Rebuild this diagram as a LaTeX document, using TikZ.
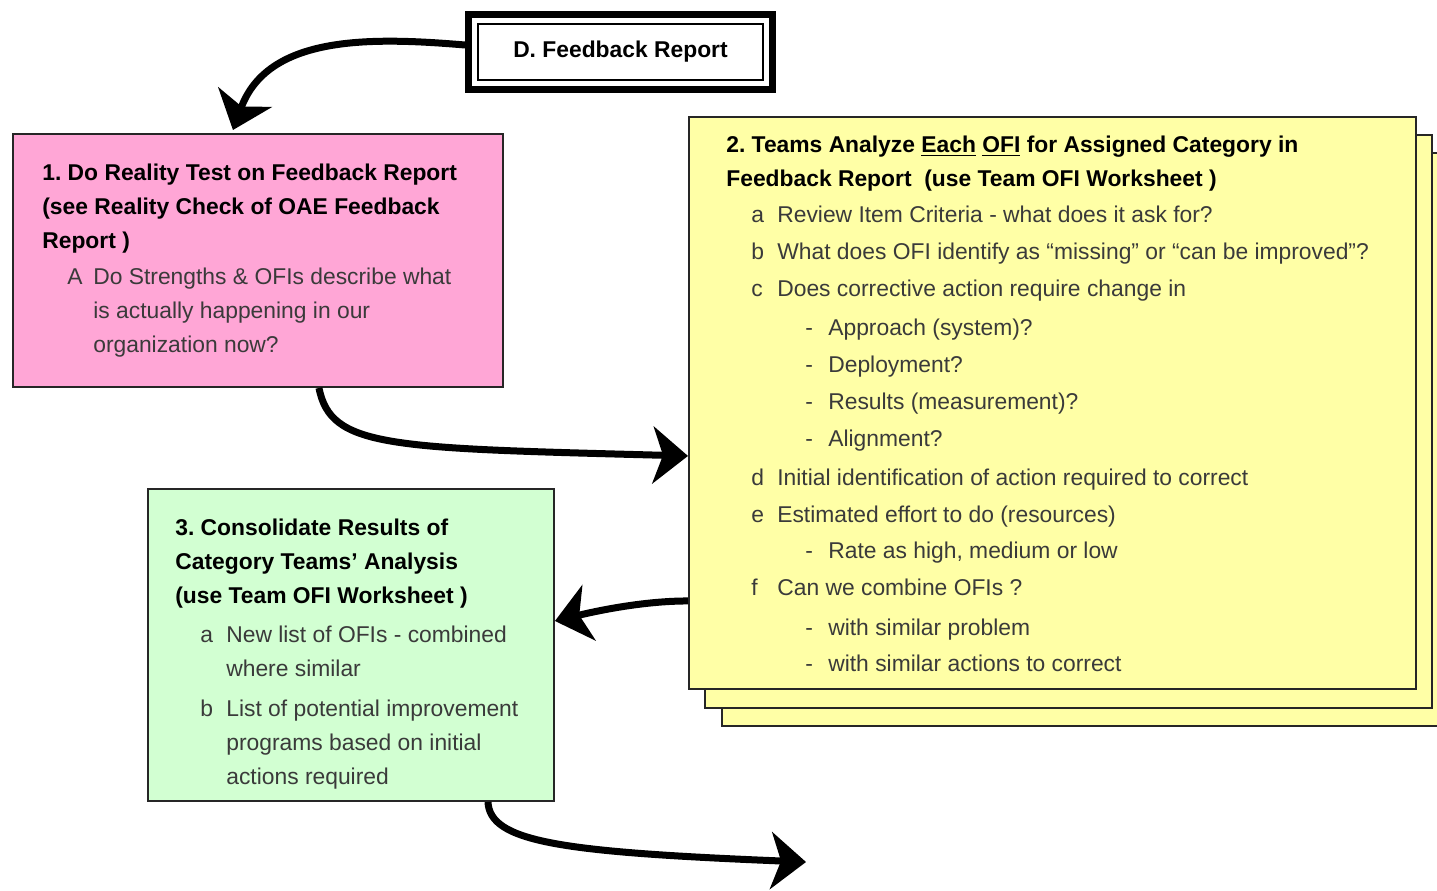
\documentclass[tikz,border=0pt]{standalone}
\usepackage{fontspec}
\setmainfont{Liberation Sans}
\usetikzlibrary{arrows.meta,calc}
\frenchspacing

\definecolor{realitypink}{HTML}{FFA6D6}
\definecolor{teamyellow}{HTML}{FFFFA6}
\definecolor{consolgreen}{HTML}{D2FFD2}
\definecolor{itemgrey}{HTML}{3A3A3A}

% lettered item, continued line, dashed sub item
\newcommand{\lettered}[2]{\hspace*{0.5cm}\textcolor{itemgrey}{\makebox[0.52cm][l]{#1}#2}}
\newcommand{\carryon}[1]{\hspace*{1.02cm}\textcolor{itemgrey}{#1}}
\newcommand{\dashitem}[1]{\hspace*{1.58cm}\textcolor{itemgrey}{\makebox[0.46cm][l]{-}#1}}

\tikzset{
  stepbox/.style={draw=black!85, line width=0.04cm, anchor=north west, inner sep=0pt},
  boxtext/.style={anchor=north west, inner sep=0pt, align=left,
    font=\fontsize{13pt}{0.68cm}\selectfont},
  flow/.style={line width=0.14cm, -{Stealth[length=0.7cm,width=1.14cm,inset=0.2cm]}},
}

\begin{document}
\begin{tikzpicture}[x=0.02cm, y=-0.02cm]
  \useasboundingbox (0,0) rectangle (1437,890);

  % === D. Feedback Report (double frame) ===
  \node[draw, line width=0.14cm, minimum width=6.08cm, minimum height=1.5cm,
        font=\fontsize{13pt}{0.68cm}\selectfont\bfseries] (feedback) at (620.5,52) {D.\ Feedback Report};
  \draw[line width=0.04cm] ($(feedback.north west)+(13,13)$) rectangle ($(feedback.south east)+(-13,-13)$);

  % === 1. Reality test (pink) ===
  \node[stepbox, fill=realitypink, minimum width=9.8cm, minimum height=5.06cm] (reality) at (12,133) {};
  \node[boxtext] (realitytext) at ($(reality.north west)+(30,31)$) {%
    \textbf{1. Do Reality Test on Feedback Report}\\
    \textbf{(see Reality Check of OAE Feedback}\\
    \textbf{Report )}\\[0.04cm]
    \lettered{A}{Do Strengths \& OFIs describe what}\\
    \carryon{is actually happening in our}\\
    \carryon{organization now?}};

  % === 2. Teams analyze (yellow, stacked pages) ===
  \node[stepbox, fill=teamyellow, minimum width=14.54cm, minimum height=11.46cm] (teamsback2) at (721,152) {};
  \node[stepbox, fill=teamyellow, minimum width=14.54cm, minimum height=11.46cm] (teamsback1) at (704,134) {};
  \node[stepbox, fill=teamyellow, minimum width=14.54cm, minimum height=11.44cm] (teams) at (688,116) {};
  \node[boxtext] (teamstext) at ($(teams.north west)+(38,20)$) {%
    \textbf{2. Teams Analyze \underline{Each} \underline{OFI} for Assigned Category in}\\
    \textbf{Feedback Report\ \ (use Team OFI Worksheet )}\\[0.04cm]
    \lettered{a}{Review Item Criteria - what does it ask for?}\\[0.06cm]
    \lettered{b}{What does OFI identify as “missing” or “can be improved”?}\\[0.06cm]
    \lettered{c}{Does corrective action require change in}\\[0.1cm]
    \dashitem{Approach (system)?}\\[0.06cm]
    \dashitem{Deployment?}\\[0.05cm]
    \dashitem{Results (measurement)?}\\[0.06cm]
    \dashitem{Alignment?}\\[0.1cm]
    \lettered{d}{Initial identification of action required to correct}\\[0.06cm]
    \lettered{e}{Estimated effort to do (resources)}\\[0.04cm]
    \dashitem{Rate as high, medium or low}\\[0.06cm]
    \lettered{f}{Can we combine OFIs ?}\\[0.12cm]
    \dashitem{with similar problem}\\[0.04cm]
    \dashitem{with similar actions to correct}};

  % === 3. Consolidate (green) ===
  \node[stepbox, fill=consolgreen, minimum width=8.12cm, minimum height=6.24cm] (consol) at (147,488) {};
  \node[boxtext] (consoltext) at ($(consol.north west)+(28,31)$) {%
    \textbf{3. Consolidate Results of}\\
    \textbf{Category Teams’ Analysis}\\
    \textbf{(use Team OFI Worksheet )}\\[0.1cm]
    \lettered{a}{New list of OFIs - combined}\\
    \carryon{where similar}\\[0.12cm]
    \lettered{b}{List of potential improvement}\\
    \carryon{programs based on initial}\\
    \carryon{actions required}};

  % === connectors ===
  \coordinate (nextstep) at (806,862);
  \draw[flow] ($(feedback.west)+(0,-7)$) .. controls +(-95,-8) and +(35,-95) .. ($(reality.north)+(-25,-3)$);
  \draw[flow] ($(reality.south)+(61,0)$) .. controls +(12,60) and +(-300,-8) .. ($(teams.west)+(0,53)$);
  \draw[flow] ($(teams.west)+(0,198)$) .. controls +(-40,0) and +(50,-12) .. ($(consol.east)+(0,-24)$);
  \draw[flow] ($(consol.south)+(137,0)$) .. controls +(2,40) and +(-246,-10) .. (nextstep);
\end{tikzpicture}
\end{document}
